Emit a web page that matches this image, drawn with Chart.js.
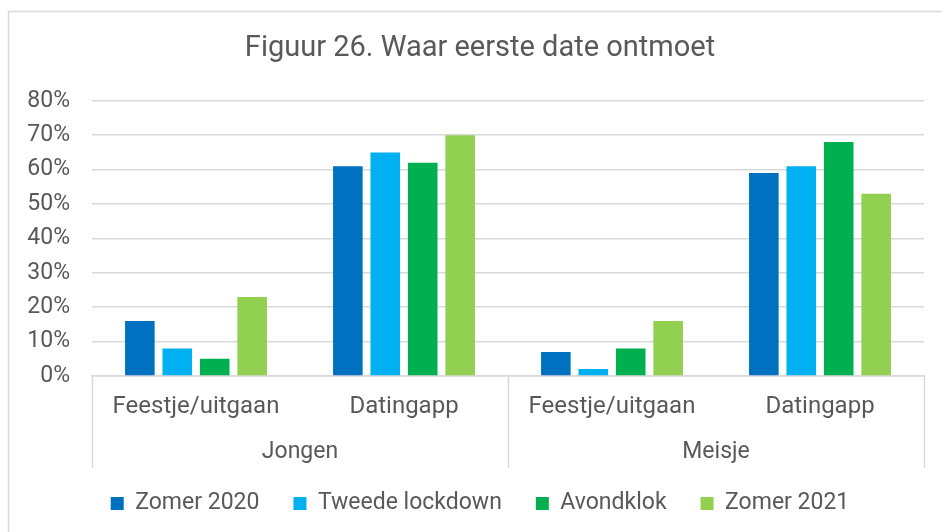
<!DOCTYPE html>
<html>
<head>
<meta charset="utf-8">
<script src="https://cdn.jsdelivr.net/npm/chart.js@4.4.1/dist/chart.umd.min.js"></script>
<style>
  body { margin: 0; background: #fff; }
  #wrap { width: 942px; height: 532px; }
</style>
</head>
<body>
<div id="wrap"><canvas id="chart" width="942" height="532"></canvas></div>
<script>
// categories (two-level axis: group / sub-category)
var groups = ["Jongen", "Meisje"];
var categories = ["Feestje/uitgaan", "Datingapp", "Feestje/uitgaan", "Datingapp"];
var yTicks = [0, 10, 20, 30, 40, 50, 60, 70, 80];

// series values in %
var seriesNames = ["Zomer 2020", "Tweede lockdown", "Avondklok", "Zomer 2021"];
var zomer2020 = [16, 61, 7, 59];
var tweedeLockdown = [8, 65, 2, 61];
var avondklok = [5, 62, 8, 68];
var zomer2021 = [23, 70, 16, 53];

var textColor = "#595959";
var lineColor = "#d9d9d9";

// group labels + separators under the category axis
var groupAxisPlugin = {
	id: "groupAxis",
	beforeDraw: function (chart) {
		var ctx = chart.ctx;
		ctx.save();
		ctx.strokeStyle = lineColor;
		ctx.lineWidth = 1.5;
		ctx.strokeRect(8.5, 11.5, chart.width + 10, chart.height + 10);
		ctx.restore();
	},
	afterDraw: function (chart) {
		var ctx = chart.ctx;
		var x = chart.scales.x;
		var top = chart.chartArea.bottom;
		var bottom = top + 92;
		var perGroup = categories.length / groups.length;
		var edges = [x.left];
		for (var g = 1; g < groups.length; g++) {
			var i = g * perGroup;
			edges.push((x.getPixelForValue(i - 1) + x.getPixelForValue(i)) / 2);
		}
		edges.push(x.right);

		ctx.save();
		ctx.strokeStyle = lineColor;
		ctx.lineWidth = 1.5;
		edges.forEach(function (ex) {
			ctx.beginPath();
			ctx.moveTo(Math.round(ex) + 0.5, top);
			ctx.lineTo(Math.round(ex) + 0.5, bottom);
			ctx.stroke();
		});
		ctx.fillStyle = textColor;
		ctx.font = "23px Roboto";
		ctx.textAlign = "center";
		ctx.textBaseline = "middle";
		for (var k = 0; k < groups.length; k++) {
			ctx.fillText(groups[k], (edges[k] + edges[k + 1]) / 2, top + 76);
		}
		ctx.restore();
	},
};

var colors = ["#0070C0", "#00B0F0", "#00B050", "#92D050"];
var seriesData = [zomer2020, tweedeLockdown, avondklok, zomer2021];

new Chart(document.getElementById("chart"), {
	type: "bar",
	data: {
		labels: categories,
		datasets: seriesNames.map(function (name, i) {
			return {
				label: name,
				data: seriesData[i],
				backgroundColor: colors[i],
				borderWidth: 0,
				barPercentage: 0.79,
				categoryPercentage: 0.72,
			};
		}),
	},
	plugins: [groupAxisPlugin],
	options: {
		responsive: false,
		animation: false,
		layout: { padding: { left: 18, right: 0, top: 0, bottom: 7 } },
		plugins: {
			title: {
				display: true,
				text: "Figuur 26. Waar eerste date ontmoet",
				color: textColor,
				font: { family: "Roboto", size: 29, weight: "normal" },
				padding: { top: 31, bottom: 35 },
			},
			legend: {
				position: "bottom",
				labels: {
					color: textColor,
					font: { family: "Roboto", size: 23 },
					boxWidth: 13,
					boxHeight: 13,
					padding: 34,
				},
			},
			tooltip: { enabled: false },
		},
		scales: {
			x: {
				grid: { display: false },
				border: { display: true, color: lineColor, width: 1.5 },
				ticks: {
					color: textColor,
					font: { family: "Roboto", size: 24 },
					padding: 9,
					maxRotation: 0,
				},
				afterFit: function (scale) {
					scale.height = 82;
				},
			},
			y: {
				min: 0,
				max: 80,
				afterBuildTicks: function (scale) {
					scale.ticks = yTicks.map(function (v) { return { value: v }; });
				},
				grid: { color: lineColor, lineWidth: 1.5, drawTicks: false },
				border: { display: false },
				ticks: {
					color: textColor,
					font: { family: "Roboto", size: 23 },
					padding: 22,
					callback: function (v) { return v + "%"; },
				},
				afterFit: function (scale) {
					scale.width = 74;
				},
			},
			// empty right-hand spacer so the plot ends where the reference's does
			yRight: {
				position: "right",
				grid: { display: false },
				border: { display: false },
				ticks: { display: false },
				afterFit: function (scale) {
					scale.width = 18;
				},
			},
		},
	},
});
</script>
</body>
</html>
